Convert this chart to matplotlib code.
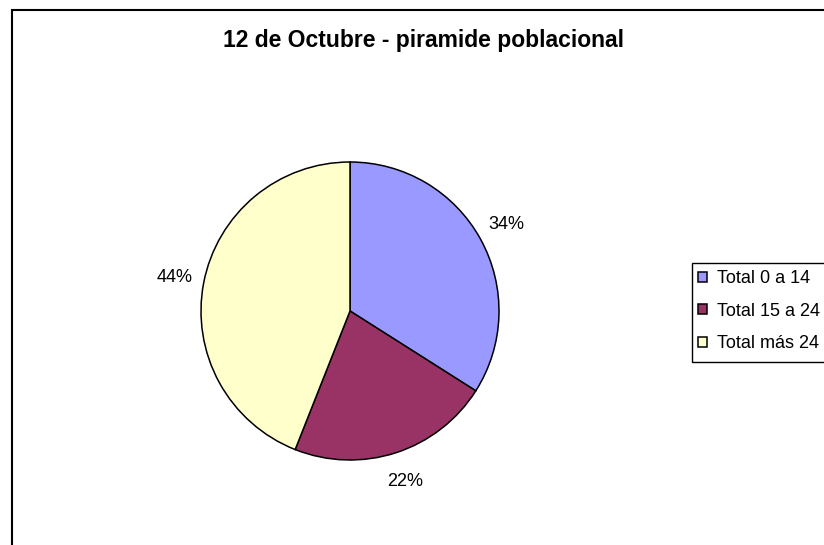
import matplotlib
matplotlib.use("Agg")
import matplotlib.pyplot as plt
from matplotlib.patches import Rectangle

plt.rcParams['font.family']=['Liberation Sans','DejaVu Sans']

# data
labels=["Total 0 a 14","Total 15 a 24","Total más 24"]
values=[34,22,44]
colors=["#9999FF","#993366","#FFFFCC"]
title="12 de Octubre - piramide poblacional"

W,H=824,545
fig=plt.figure(figsize=(W/100,H/100),dpi=100)

# chart area frame (runs off the right and bottom)
fig.add_artist(Rectangle((12/W,-0.1),1.2,1-10/H+0.1,transform=fig.transFigure,
	fill=False,edgecolor="black",linewidth=1.5))
# legend box, also cut by the right edge
fig.add_artist(Rectangle((692/W,1-362/H),0.2,99/H,transform=fig.transFigure,
	fill=False,edgecolor="black",linewidth=1.0))

fig.text(423/W,1-40/H,title,ha="center",va="center",fontsize=16.5,fontweight="bold")

cx,cy,r=350,311,149
ax=fig.add_axes([(cx-r)/W,(H-cy-r)/H,2*r/W,2*r/H])
wedges,texts,autotexts=ax.pie(values,colors=colors,startangle=90,counterclock=False,
	autopct="%1.0f%%",pctdistance=1.2,
	wedgeprops=dict(edgecolor="black",linewidth=1.1))
for t in autotexts: t.set_fontsize(13)
ax.set_xlim(-1,1)
ax.set_ylim(-1,1)

leg=fig.legend(wedges,labels,loc="upper left",bbox_to_anchor=(698/W,1-270/H),
	fontsize=13,frameon=False,
	handlelength=0.48,handleheight=0.48,handletextpad=0.55,borderpad=0,
	labelspacing=0.87,borderaxespad=0)

fig.savefig("out.png",dpi=100)
